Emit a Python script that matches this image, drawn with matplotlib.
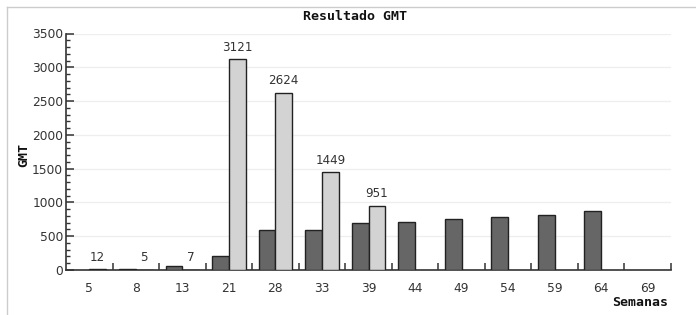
import matplotlib
matplotlib.use("Agg")
import matplotlib.pyplot as plt
from matplotlib.ticker import MultipleLocator
from matplotlib.lines import Line2D
import numpy as np

semanas = ["5", "8", "13", "21", "28", "33", "39", "44", "49", "54", "59", "64", "69"]
serie_oscura = [np.nan, 20, 60, 205, 595, 595, 690, 705, 758, 778, 818, 868, np.nan]
serie_clara = [12, 5, 7, 3121, 2624, 1449, 951, np.nan, np.nan, np.nan, np.nan, np.nan, np.nan]
etiquetas_clara = ["12", "5", "7", "3121", "2624", "1449", "951", "", "", "", "", "", ""]

W, H = 696, 315
fig = plt.figure(figsize=(W / 100, H / 100), dpi=100)
fig.patch.set_facecolor("white")
ax = fig.add_axes([66 / W, 1 - 270 / H, (671 - 66) / W, (270 - 33.5) / H])

x = np.arange(len(semanas))
bw = 0.36
ax.bar(x - bw / 2, serie_oscura, width=bw, color="#666666", edgecolor="#222222", linewidth=1.0, zorder=3)
ax.bar(x + bw / 2, serie_clara, width=bw, color="#d3d3d3", edgecolor="#222222", linewidth=1.0, zorder=3)

for xi, v, lab in zip(x, serie_clara, etiquetas_clara):
    if lab:
        ax.annotate(lab, (xi + bw / 2, v), xytext=(0, 4), textcoords="offset points",
                    ha="center", va="bottom", fontsize=8.6, color="#333333")

ax.set_xlim(-0.5, len(semanas) - 0.5)
ax.set_ylim(0, 3500)
ax.yaxis.set_major_locator(MultipleLocator(500))
ax.yaxis.set_minor_locator(MultipleLocator(100))
ax.grid(axis="y", which="major", color="#eeeeee", linewidth=0.9, zorder=0)

ax.set_xticks(x)
ax.set_xticklabels(semanas)
ax.set_xticks(np.arange(0.5, len(semanas), 1.0), minor=True)
ax.tick_params(axis="x", which="major", length=0, pad=9, labelsize=8.8, labelcolor="#333333")
ax.tick_params(axis="x", which="minor", direction="in", length=5, width=1.1, color="#333333")
ax.tick_params(axis="y", which="major", direction="in", length=6, width=1.1, color="#333333",
               labelsize=8.8, labelcolor="#333333", pad=2)
ax.tick_params(axis="y", which="minor", direction="in", length=3, width=1.0, color="#333333")

for s in ["top", "right"]:
    ax.spines[s].set_visible(False)
for s in ["left", "bottom"]:
    ax.spines[s].set_color("#333333")
    ax.spines[s].set_linewidth(1.2)

fig.text(355 / W, 1 - 17 / H, "Resultado GMT", ha="center", va="center",
         fontsize=9.5, fontweight="bold", family="DejaVu Sans Mono", color="#111111")
fig.text(640 / W, 1 - 303 / H, "Semanas", ha="center", va="center",
         fontsize=9.5, fontweight="bold", family="DejaVu Sans Mono", color="#111111")
fig.text(24 / W, 1 - 155 / H, "GMT", ha="center", va="center", rotation=90,
         fontsize=9.5, fontweight="bold", family="DejaVu Sans Mono", color="#111111")

fig.add_artist(Line2D([7 / W, 1], [1 - 7 / H, 1 - 7 / H], transform=fig.transFigure, color="#cccccc", linewidth=1))
fig.add_artist(Line2D([7 / W, 7 / W], [0, 1 - 7 / H], transform=fig.transFigure, color="#cccccc", linewidth=1))

fig.savefig("out.png", dpi=100)
